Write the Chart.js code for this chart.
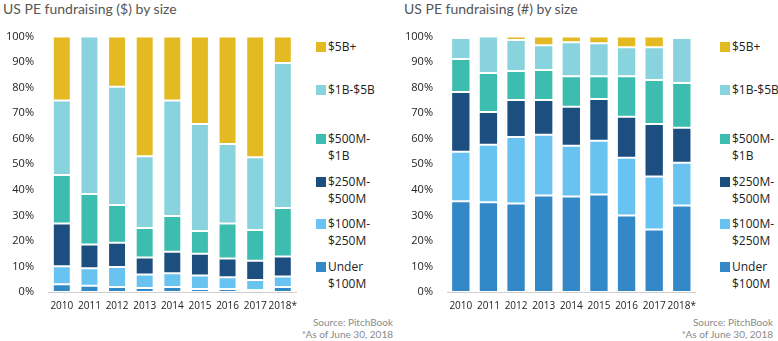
<!DOCTYPE html>
<html>
<head>
<meta charset="utf-8">
<script src="https://cdn.jsdelivr.net/npm/chart.js@4"></script>
<style>
    body { margin: 0; background: #fff; width: 778px; height: 341px; position: relative; overflow: hidden; }
    .title { position: absolute; top: 0; font-family: Lato, sans-serif; font-size: 14px; color: #555; white-space: nowrap; }
    .box { position: absolute; top: 16px; height: 298px; }
    .legend { position: absolute; top: 37px; font-family: "Open Sans", sans-serif; font-size: 12px; color: #222; line-height: 17px; }
    .legend .item { position: absolute; left: 0; white-space: nowrap; }
    .legend .sq { position: absolute; left: 0; top: 4px; width: 10px; height: 10px; }
    .legend .txt { position: absolute; left: 12px; top: 0; }
    .note { position: absolute; font-family: Lato, sans-serif; font-size: 10px; color: #8a8a8a; text-align: right; white-space: nowrap; line-height: 12px; }
</style>
</head>
<body>
<div class="title" style="left:3px;">US PE fundraising ($) by size</div>
<div class="title" style="left:404px;">US PE fundraising (#) by size</div>

<div class="box" style="left:0; width:305px;"><canvas id="dollarChart"></canvas></div>
<div class="box" style="left:390px; width:314px;"><canvas id="countChart"></canvas></div>

<div class="legend" id="dollarLegend" style="left:316px;"></div>
<div class="legend" id="countLegend" style="left:720px;"></div>

<div class="note" style="right:385px; top:316px;">Source: PitchBook<br>*As of June 30, 2018</div>
<div class="note" style="right:5px; top:316px;">Source: PitchBook<br>*As of June 30, 2018</div>

<script>
'use strict';

var years = ['2010', '2011', '2012', '2013', '2014', '2015', '2016', '2017', '2018*'];
var sizeLabels = ['Under $100M', '$100M-$250M', '$250M-$500M', '$500M-$1B', '$1B-$5B', '$5B+'];
var legendLines = [['Under', '$100M'], ['$100M-', '$250M'], ['$250M-', '$500M'], ['$500M-', '$1B'], ['$1B-$5B'], ['$5B+']];
var sizeColors = ['#3388c8', '#68c3f0', '#1c4e7f', '#3cbdb0', '#88d3dd', '#e3ba22'];
var yTicks = [0, 10, 20, 30, 40, 50, 60, 70, 80, 90, 100];

// share of capital raised ($), percent
var dollarUnder100M = [3.0, 2.4, 2.0, 1.6, 2.0, 1.2, 1.2, 0.8, 2.0];
var dollar100M250M = [7.1, 6.9, 7.8, 5.3, 5.3, 5.3, 4.6, 3.9, 4.1];
var dollar250M500M = [16.7, 9.3, 9.5, 6.6, 8.5, 8.5, 7.3, 7.5, 7.8];
var dollar500M1B = [19.0, 19.8, 14.8, 11.6, 14.0, 8.9, 13.7, 12.1, 19.0];
var dollar1B5B = [29.2, 61.6, 46.3, 28.1, 45.2, 41.9, 31.1, 28.5, 56.8];
var dollar5BPlus = [25.0, 0.0, 19.6, 46.8, 25.0, 34.2, 42.1, 47.2, 10.3];

// share of fund count (#), percent
var countUnder100M = [35.5, 35.1, 34.7, 37.8, 37.4, 38.2, 30.0, 24.5, 33.9];
var count100M250M = [19.4, 22.6, 26.0, 23.8, 19.9, 21.0, 22.6, 20.7, 16.7];
var count250M500M = [23.4, 12.8, 14.5, 13.6, 15.2, 16.4, 16.0, 20.6, 13.7];
var count500M1B = [12.9, 15.2, 11.3, 11.7, 12.0, 8.9, 15.9, 17.2, 17.5];
var count1B5B = [8.3, 14.3, 12.2, 9.7, 13.3, 12.9, 11.3, 12.8, 17.7];
var count5BPlus = [0.5, 0.0, 1.3, 3.4, 2.2, 2.6, 4.2, 4.2, 0.5];

var xFont = { family: '"Open Sans", sans-serif', size: 10 };
var yFont = { family: '"Open Sans", sans-serif', size: 11 };

function buildDatasets(series) {
    var datasets = [];
    for (var i = 0; i < series.length; i++) {
        datasets.push({
            label: sizeLabels[i],
            data: series[i],
            backgroundColor: sizeColors[i],
            borderColor: 'rgba(255,255,255,0.45)',
            borderWidth: 1,
            borderSkipped: false
        });
    }
    return datasets;
}

function createStackedChart(canvasId, series, yWidth, barPct, topPad) {
    var ctx = document.getElementById(canvasId).getContext('2d');
    return new Chart(ctx, {
        type: 'bar',
        data: {
            labels: years,
            datasets: buildDatasets(series)
        },
        options: {
            responsive: true,
            maintainAspectRatio: false,
            animation: false,
            layout: { padding: { top: topPad, left: 0, right: 0, bottom: 0 } },
            plugins: { legend: { display: false }, tooltip: { enabled: false } },
            datasets: { bar: { barPercentage: barPct, categoryPercentage: 1 } },
            scales: {
                x: {
                    stacked: true,
                    grid: { display: false, drawTicks: false },
                    border: { display: true, color: '#cfcfcf', width: 1 },
                    ticks: { color: '#222', font: xFont, padding: 8, maxRotation: 0, autoSkip: false },
                    afterFit: function (scale) { scale.height = 22; }
                },
                y: {
                    stacked: true,
                    min: 0,
                    max: 100,
                    afterBuildTicks: function (scale) {
                        scale.ticks = yTicks.map(function (v) { return { value: v }; });
                    },
                    grid: { display: false, drawTicks: false },
                    border: { display: false },
                    ticks: {
                        color: '#222',
                        font: yFont,
                        padding: 14,
                        callback: function (value) { return value + '%'; }
                    },
                    afterFit: function (scale) { scale.width = yWidth; }
                }
            }
        }
    });
}

function createLegend(elementId) {
    var el = document.getElementById(elementId);
    var tops = [221, 178, 136, 93, 44, 1];
    for (var i = sizeLabels.length - 1; i >= 0; i--) {
        var item = document.createElement('div');
        item.className = 'item';
        item.style.top = tops[i] + 'px';
        var sq = document.createElement('div');
        sq.className = 'sq';
        sq.style.background = sizeColors[i];
        var txt = document.createElement('div');
        txt.className = 'txt';
        txt.innerHTML = legendLines[i].join('<br>');
        item.appendChild(sq);
        item.appendChild(txt);
        el.appendChild(item);
    }
}

createStackedChart('dollarChart',
    [dollarUnder100M, dollar100M250M, dollar250M500M, dollar500M1B, dollar1B5B, dollar5BPlus], 48, 0.65, 8);
createStackedChart('countChart',
    [countUnder100M, count100M250M, count250M500M, count500M1B, count1B5B, count5BPlus], 57, 0.7, 7);

createLegend('dollarLegend');
createLegend('countLegend');
</script>
</body>
</html>
